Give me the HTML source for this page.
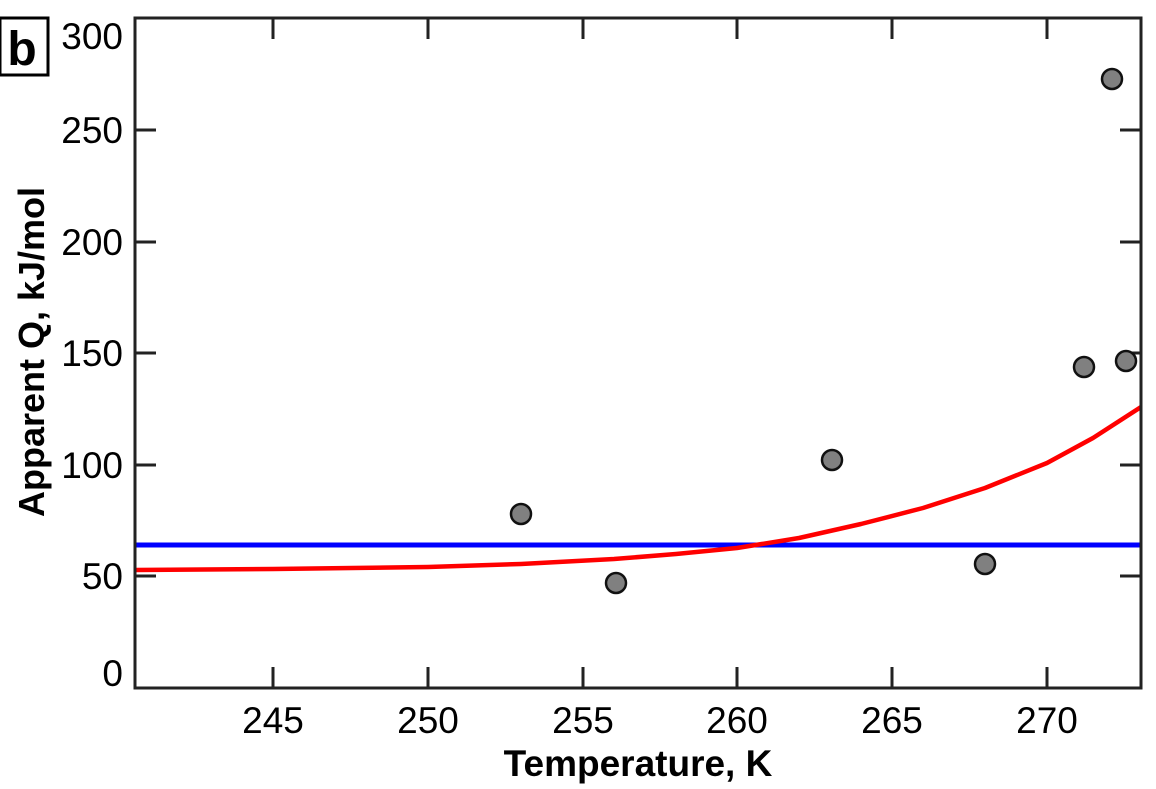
<!DOCTYPE html>
<html><head><style>body{margin:0;background:#fff}svg{display:block}</style></head><body>
<svg width="1156" height="789" xmlns="http://www.w3.org/2000/svg" font-family="Liberation Sans, Arial, sans-serif">
<rect width="1156" height="789" fill="#fff"/>
<rect x="0" y="18" width="48" height="57" fill="#fff" stroke="#000" stroke-width="3"/>
<text x="22" y="65" font-size="48" font-weight="bold" text-anchor="middle">b</text>
<g stroke="#222" stroke-width="3">
<line x1="135" y1="130" x2="156" y2="130"/><line x1="135" y1="242" x2="156" y2="242"/>
<line x1="135" y1="353" x2="156" y2="353"/><line x1="135" y1="465" x2="156" y2="465"/>
<line x1="135" y1="576" x2="156" y2="576"/>
<line x1="1141" y1="130" x2="1120" y2="130"/><line x1="1141" y1="242" x2="1120" y2="242"/>
<line x1="1141" y1="353" x2="1120" y2="353"/><line x1="1141" y1="465" x2="1120" y2="465"/>
<line x1="1141" y1="576" x2="1120" y2="576"/>
<line x1="273" y1="688" x2="273" y2="667"/><line x1="428" y1="688" x2="428" y2="667"/>
<line x1="583" y1="688" x2="583" y2="667"/><line x1="737" y1="688" x2="737" y2="667"/>
<line x1="892" y1="688" x2="892" y2="667"/><line x1="1047" y1="688" x2="1047" y2="667"/>
<line x1="273" y1="18" x2="273" y2="39"/><line x1="428" y1="18" x2="428" y2="39"/>
<line x1="583" y1="18" x2="583" y2="39"/><line x1="737" y1="18" x2="737" y2="39"/>
<line x1="892" y1="18" x2="892" y2="39"/><line x1="1047" y1="18" x2="1047" y2="39"/>
</g>
<line x1="135" y1="545" x2="1141" y2="545" stroke="#0000ff" stroke-width="5"/>
<polyline points="135,570 273,569 428,567 521,564 614,559 676,554 737,548 799,538 861,524 923,508 985,488 1047,463 1093,438 1141,407" fill="none" stroke="#ff0000" stroke-width="4.5" stroke-linejoin="round"/>
<g fill="#808080" stroke="#111" stroke-width="2.5">
<circle cx="521" cy="514" r="10"/><circle cx="616" cy="583" r="10"/>
<circle cx="832" cy="460" r="10"/><circle cx="985" cy="564" r="10"/>
<circle cx="1084" cy="367" r="10"/><circle cx="1112" cy="79" r="10"/>
<circle cx="1126" cy="361" r="10"/>
</g>
<rect x="135" y="18" width="1006" height="670" fill="none" stroke="#222" stroke-width="3"/>
<g font-size="37" text-anchor="end">
<text x="123" y="49">300</text><text x="123" y="143">250</text><text x="123" y="255">200</text>
<text x="123" y="366">150</text><text x="123" y="478">100</text><text x="123" y="589">50</text>
<text x="123" y="686">0</text>
</g>
<g font-size="37" text-anchor="middle">
<text x="273" y="733">245</text><text x="428" y="733">250</text><text x="583" y="733">255</text>
<text x="737" y="733">260</text><text x="892" y="733">265</text><text x="1047" y="733">270</text>
</g>
<text x="638" y="776" font-size="37" font-weight="bold" text-anchor="middle">Temperature, K</text>
<text transform="translate(44,352) rotate(-90)" font-size="36" font-weight="bold" text-anchor="middle">Apparent Q, kJ/mol</text>
</svg>
</body></html>
